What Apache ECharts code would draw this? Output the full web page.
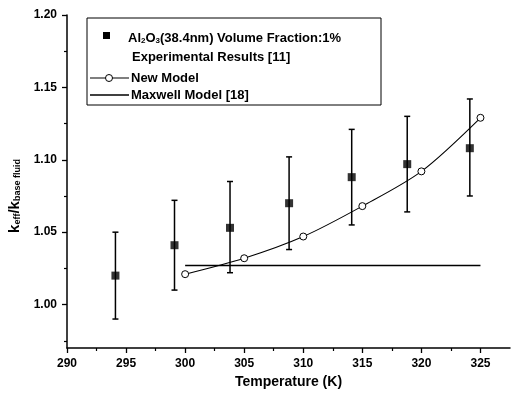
<!DOCTYPE html>
<html>
<head>
<meta charset="utf-8">
<script src="https://cdn.jsdelivr.net/npm/echarts@6/dist/echarts.min.js"></script>
<style>html,body{margin:0;padding:0;background:#fff}#c{width:511px;height:398px}</style>
</head>
<body>
<div id="c"></div>
<script>
// ---- data ----
var expTemps = [294.1, 299.1, 303.8, 308.8, 314.1, 318.8, 324.1];
var expValues = [1.020, 1.041, 1.053, 1.070, 1.088, 1.097, 1.108];
var expHigh = [1.050, 1.072, 1.085, 1.102, 1.121, 1.130, 1.142];
var expLow = [0.990, 1.010, 1.022, 1.038, 1.055, 1.064, 1.075];
var modelTemps = [300, 305, 310, 315, 320, 325];
var modelValues = [1.021, 1.032, 1.047, 1.068, 1.092, 1.129];
var maxwellTemps = [300, 325];
var maxwellValues = [1.027, 1.027];
var xTickLabels = [290, 295, 300, 305, 310, 315, 320, 325];
var xMinorTicks = [292.5, 297.5, 302.5, 307.5, 312.5, 317.5, 322.5];
var yTickLabels = [1.00, 1.05, 1.10, 1.15, 1.20];
var yMinorTicks = [0.975, 1.025, 1.075, 1.125, 1.175];

var FONT = 'Liberation Sans';
function zip(a, b) { return a.map(function (v, i) { return [v, b[i]]; }); }

var chart = echarts.init(document.getElementById('c'));
var axisLine = { lineStyle: { color: '#000', width: 1.5 } };
var legendMain = { fontSize: 13, fontFamily: FONT, fontWeight: 'bold', lineHeight: 15, verticalAlign: 'bottom', fill: '#000' };
var legendSub = { fontSize: 8, fontFamily: FONT, fontWeight: 'bold', lineHeight: 9, verticalAlign: 'bottom', padding: [5, 0, 0, 0], fill: '#000' };
var option = {
  backgroundColor: '#fff',
  animation: false,
  grid: { left: 67, top: 15, right: 1, bottom: 50 },
  xAxis: [{
    type: 'value', min: 290, max: 327.5,
    axisLine: axisLine,
    axisTick: { customValues: xTickLabels, length: 5, lineStyle: { color: '#000', width: 1.3 } },
    axisLabel: { customValues: xTickLabels, color: '#000', fontFamily: FONT, fontWeight: 'bold', fontSize: 12, margin: 10 },
    splitLine: { show: false },
    name: 'Temperature (K)', nameLocation: 'middle', nameGap: 25,
    nameTextStyle: { color: '#000', fontFamily: FONT, fontWeight: 'bold', fontSize: 14 }
  }, {
    type: 'value', min: 290, max: 327.5, position: 'bottom',
    axisLine: { show: false },
    axisTick: { customValues: xMinorTicks, length: 3, lineStyle: { color: '#000', width: 1.2 } },
    axisLabel: { show: false }, splitLine: { show: false }
  }],
  yAxis: [{
    type: 'value', min: 0.97, max: 1.20,
    axisLine: axisLine,
    axisTick: { customValues: yTickLabels, length: 5, lineStyle: { color: '#000', width: 1.3 } },
    axisLabel: { customValues: yTickLabels, color: '#000', fontFamily: FONT, fontWeight: 'bold', fontSize: 12, margin: 10,
      formatter: function (v) { return v.toFixed(2); } },
    splitLine: { show: false }
  }, {
    type: 'value', min: 0.97, max: 1.20, position: 'left',
    axisLine: { show: false },
    axisTick: { customValues: yMinorTicks, length: 3, lineStyle: { color: '#000', width: 1.2 } },
    axisLabel: { show: false }, splitLine: { show: false }
  }],
  series: [
    {
      type: 'line', name: 'Maxwell Model [18]', data: zip(maxwellTemps, maxwellValues),
      symbol: 'none', lineStyle: { color: '#000', width: 1.6 }, z: 2
    },
    {
      type: 'line', name: 'New Model', data: zip(modelTemps, modelValues), smooth: 0.3,
      symbol: 'circle', symbolSize: 7,
      itemStyle: { color: '#fff', borderColor: '#000', borderWidth: 1 },
      lineStyle: { color: '#000', width: 1.1 }, z: 3
    },
    {
      type: 'custom', name: 'error',
      data: expTemps.map(function (t, i) { return [t, expLow[i], expHigh[i]]; }),
      renderItem: function (params, api) {
        var x = api.value(0);
        var lo = api.coord([x, api.value(1)]);
        var hi = api.coord([x, api.value(2)]);
        var w = 3;
        var st = { stroke: '#000', lineWidth: 1.5 };
        return { type: 'group', children: [
          { type: 'line', shape: { x1: lo[0], y1: lo[1], x2: hi[0], y2: hi[1] }, style: st },
          { type: 'line', shape: { x1: lo[0] - w, y1: lo[1], x2: lo[0] + w, y2: lo[1] }, style: st },
          { type: 'line', shape: { x1: hi[0] - w, y1: hi[1], x2: hi[0] + w, y2: hi[1] }, style: st }
        ] };
      },
      encode: { x: 0, y: [1, 2] }, z: 4
    },
    {
      type: 'scatter', name: 'Experimental', data: zip(expTemps, expValues),
      symbol: 'rect', symbolSize: 8, itemStyle: { color: '#000' }, z: 5
    }
  ],
  graphic: [
    { type: 'text', x: 14, y: 196, rotation: Math.PI / 2, z: 11, style: {
      text: '{m|k}{s|eff}{m|/k}{s|base fluid}', align: 'center', verticalAlign: 'middle',
      rich: {
        m: { fontSize: 15, fontFamily: FONT, fontWeight: 'bold', lineHeight: 17, verticalAlign: 'bottom', fill: '#000' },
        s: { fontSize: 9, fontFamily: FONT, fontWeight: 'bold', lineHeight: 10, verticalAlign: 'bottom', padding: [6, 0, 0, 0], fill: '#000' }
      } } },
    { type: 'rect', shape: { x: 87, y: 18, width: 294, height: 87 }, style: { fill: '#fff', stroke: '#000', lineWidth: 1 }, z: 10 },
    { type: 'rect', shape: { x: 103, y: 32, width: 7, height: 7 }, style: { fill: '#000' }, z: 11 },
    { type: 'text', x: 128, y: 37, z: 11, style: {
      text: '{m|Al}{s|2}{m|O}{s|3}{m|(38.4nm) Volume Fraction:1%}', verticalAlign: 'middle',
      rich: { m: legendMain, s: legendSub } } },
    { type: 'text', x: 132, y: 57, z: 11, style: { text: 'Experimental Results [11]', fontSize: 13, fontFamily: FONT, fontWeight: 'bold', fill: '#000', verticalAlign: 'middle' } },
    { type: 'line', shape: { x1: 90, y1: 78, x2: 129, y2: 78 }, style: { stroke: '#000', lineWidth: 1.1 }, z: 11 },
    { type: 'circle', shape: { cx: 109, cy: 78, r: 3.5 }, style: { fill: '#fff', stroke: '#000', lineWidth: 1 }, z: 12 },
    { type: 'text', x: 131, y: 78, z: 11, style: { text: 'New Model', fontSize: 13, fontFamily: FONT, fontWeight: 'bold', fill: '#000', verticalAlign: 'middle' } },
    { type: 'line', shape: { x1: 90, y1: 95, x2: 129, y2: 95 }, style: { stroke: '#000', lineWidth: 1.3 }, z: 11 },
    { type: 'text', x: 131, y: 95, z: 11, style: { text: 'Maxwell Model [18]', fontSize: 13, fontFamily: FONT, fontWeight: 'bold', fill: '#000', verticalAlign: 'middle' } }
  ]
};
chart.setOption(option);
</script>
</body>
</html>
